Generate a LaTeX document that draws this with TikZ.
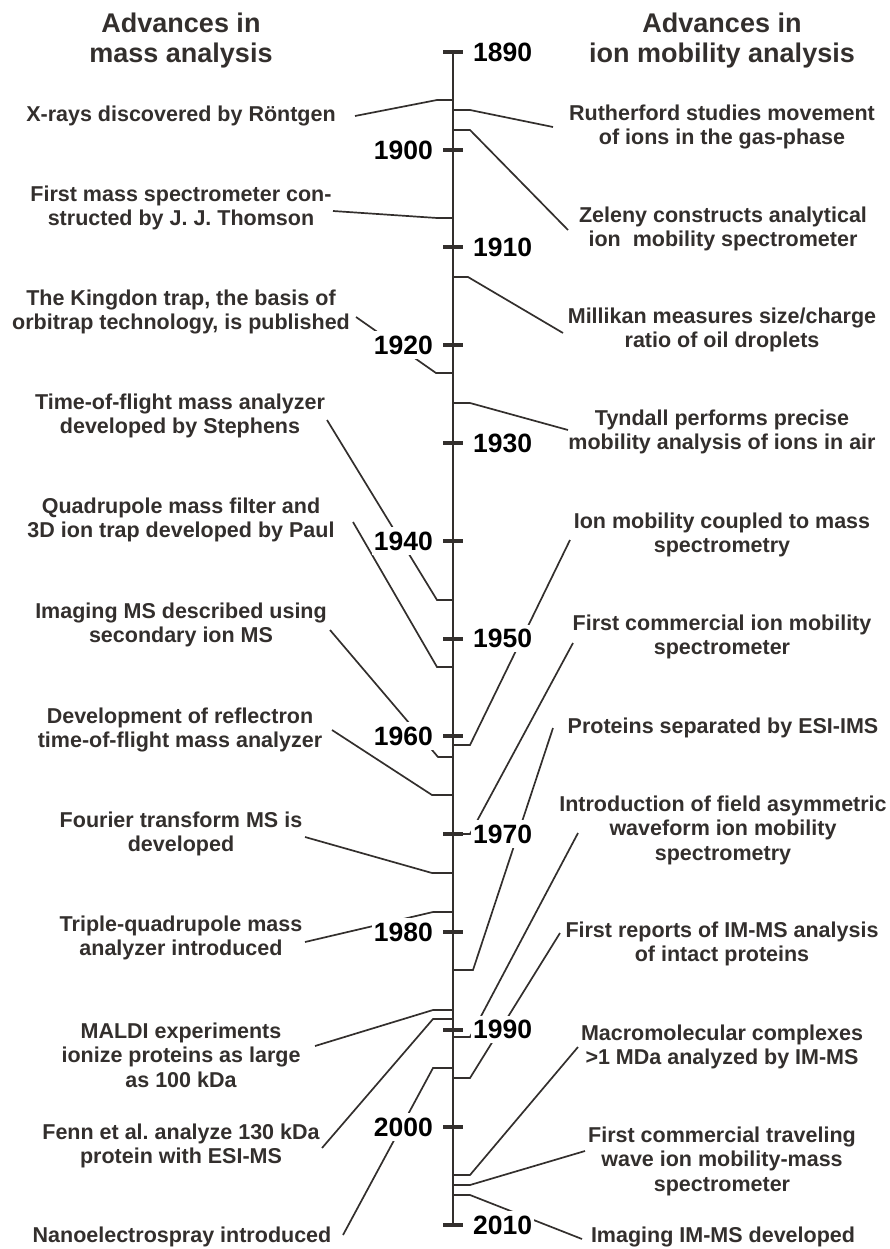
\documentclass[tikz,border=0pt]{standalone}
\usepackage{fontspec}
\setmainfont{Liberation Sans}
\frenchspacing
\definecolor{inkgray}{HTML}{332F2D}
\tikzset{
	evt/.style={align=center, text=inkgray, inner sep=0pt, font=\fontsize{21.5}{24.5}\selectfont\bfseries},
	hd/.style={align=center, text=inkgray, inner sep=0pt, font=\fontsize{27}{30}\selectfont\bfseries},
	yr/.style={fill=white, text=black, inner xsep=2pt, inner ysep=4.5pt, font=\fontsize{26.5}{28}\selectfont\bfseries},
	conn/.style={draw=inkgray, line width=1.7pt},
	tickmark/.style={draw=inkgray, line width=4pt},
}

\begin{document}
\begin{tikzpicture}[x=1pt, y=-1pt]
			%%%%% START %%%%%
			\useasboundingbox (0, 0) rectangle (890, 1249);
			
			\node[hd] (hmass) at (181, 41) {Advances in\\mass analysis};
			\node[hd] (hion) at (722, 41) {Advances in\\ion mobility analysis};
			
			% time axis
			\coordinate (top) at (453, 52);
			\coordinate (bot) at (453, 1225);
			\draw[draw=inkgray, line width=2.2pt] (top) -- (bot);
			
			\draw[tickmark] (443, 52) -- (463, 52);
			\draw[tickmark] (443, 150) -- (463, 150);
			\draw[tickmark] (443, 247.5) -- (463, 247.5);
			\draw[tickmark] (443, 345) -- (463, 345);
			\draw[tickmark] (443, 443) -- (463, 443);
			\draw[tickmark] (443, 541) -- (463, 541);
			\draw[tickmark] (443, 638.5) -- (463, 638.5);
			\draw[tickmark] (443, 736) -- (463, 736);
			\draw[tickmark] (443, 834) -- (463, 834);
			\draw[tickmark] (443, 932) -- (463, 932);
			\draw[tickmark] (443, 1029.5) -- (463, 1029.5);
			\draw[tickmark] (443, 1127) -- (463, 1127);
			\draw[tickmark] (443, 1225) -- (463, 1225);
			
			% mass analysis
			\node[evt] (xray) at (181, 116) {X-rays discovered by Röntgen};
			\coordinate (xray-e) at (355, 116);
			\coordinate (xray-b) at (437, 100);
			\draw[conn] (xray-e) -- (xray-b) -- (xray-b -| top);
			
			\node[evt] (thomson) at (181, 208) {First mass spectrometer con-\\structed by J. J. Thomson};
			\coordinate (thomson-e) at (333, 211);
			\coordinate (thomson-b) at (437, 218);
			\draw[conn] (thomson-e) -- (thomson-b) -- (thomson-b -| top);
			
			\node[evt] (kingdon) at (181, 312) {The Kingdon trap, the basis of\\orbitrap technology, is published};
			\coordinate (kingdon-e) at (356, 317);
			\coordinate (kingdon-b) at (436, 373);
			\draw[conn] (kingdon-e) -- (kingdon-b) -- (kingdon-b -| top);
			
			\node[evt] (tof) at (180, 416) {Time-of-flight mass analyzer\\developed by Stephens};
			\coordinate (tof-e) at (327, 420);
			\coordinate (tof-b) at (437, 600);
			\draw[conn] (tof-e) -- (tof-b) -- (tof-b -| top);
			
			\node[evt] (paul) at (181, 520) {Quadrupole mass filter and\\3D ion trap developed by Paul};
			\coordinate (paul-e) at (353, 522);
			\coordinate (paul-b) at (437, 667);
			\draw[conn] (paul-e) -- (paul-b) -- (paul-b -| top);
			
			\node[evt] (sims) at (181, 625) {Imaging MS described using\\secondary ion MS};
			\coordinate (sims-e) at (330, 630);
			\coordinate (sims-b) at (438, 757);
			\draw[conn] (sims-e) -- (sims-b) -- (sims-b -| top);
			
			\node[evt] (reflectron) at (180, 730) {Development of reflectron\\time-of-flight mass analyzer};
			\coordinate (reflectron-e) at (332, 730);
			\coordinate (reflectron-b) at (432, 795);
			\draw[conn] (reflectron-e) -- (reflectron-b) -- (reflectron-b -| top);
			
			\node[evt] (fourier) at (181, 834) {Fourier transform MS is\\developed};
			\coordinate (fourier-e) at (305, 837);
			\coordinate (fourier-b) at (432, 873);
			\draw[conn] (fourier-e) -- (fourier-b) -- (fourier-b -| top);
			
			\node[evt] (triple) at (181, 938) {Triple-quadrupole mass\\analyzer introduced};
			\coordinate (triple-e) at (305, 942);
			\coordinate (triple-b) at (433, 912);
			\draw[conn] (triple-e) -- (triple-b) -- (triple-b -| top);
			
			\node[evt] (maldi) at (181, 1055) {MALDI experiments\\ionize proteins as large\\as 100 kDa};
			\coordinate (maldi-e) at (315, 1046);
			\coordinate (maldi-b) at (433, 1010);
			\draw[conn] (maldi-e) -- (maldi-b) -- (maldi-b -| top);
			
			\node[evt] (fenn) at (181, 1146) {Fenn et al. analyze 130 kDa\\protein with ESI-MS};
			\coordinate (fenn-e) at (322, 1148);
			\coordinate (fenn-b) at (433, 1019);
			\draw[conn] (fenn-e) -- (fenn-b) -- (fenn-b -| top);
			
			\node[evt] (nano) at (182, 1237) {Nanoelectrospray introduced};
			\coordinate (nano-e) at (343, 1235);
			\coordinate (nano-b) at (433, 1068);
			\draw[conn] (nano-e) -- (nano-b) -- (nano-b -| top);
			
			% ion mobility analysis
			\node[evt] (ruth) at (722, 127) {Rutherford studies movement\\of ions in the gas-phase};
			\coordinate (ruth-e) at (553, 127);
			\coordinate (ruth-b) at (470, 110);
			\draw[conn] (ruth-e) -- (ruth-b) -- (ruth-b -| top);
			
			\node[evt] (zeleny) at (723, 229) {Zeleny constructs analytical\\ion\ \ mobility spectrometer};
			\coordinate (zeleny-e) at (568, 230);
			\coordinate (zeleny-b) at (470, 130);
			\draw[conn] (zeleny-e) -- (zeleny-b) -- (zeleny-b -| top);
			
			\node[evt] (millikan) at (722, 330) {Millikan measures size/charge\\ratio of oil droplets};
			\coordinate (millikan-e) at (563, 333);
			\coordinate (millikan-b) at (468, 277);
			\draw[conn] (millikan-e) -- (millikan-b) -- (millikan-b -| top);
			
			\node[evt] (tyndall) at (722, 432) {Tyndall performs precise\\mobility analysis of ions in air};
			\coordinate (tyndall-e) at (568, 430);
			\coordinate (tyndall-b) at (470, 403);
			\draw[conn] (tyndall-e) -- (tyndall-b) -- (tyndall-b -| top);
			
			\node[evt] (coupled) at (722, 535) {Ion mobility coupled to mass\\spectrometry};
			\coordinate (coupled-e) at (570, 540);
			\coordinate (coupled-b) at (470, 745);
			\draw[conn] (coupled-e) -- (coupled-b) -- (coupled-b -| top);
			
			\node[evt] (commims) at (722, 637) {First commercial ion mobility\\spectrometer};
			\coordinate (commims-e) at (573, 643);
			\coordinate (commims-b) at (470, 834);
			\draw[conn] (commims-e) -- (commims-b) -- (commims-b -| top);
			
			\node[evt] (esiims) at (723, 728) {Proteins separated by ESI-IMS};
			\coordinate (esiims-e) at (553, 728);
			\coordinate (esiims-b) at (473, 970);
			\draw[conn] (esiims-e) -- (esiims-b) -- (esiims-b -| top);
			
			\node[evt] (faims) at (723, 830) {Introduction of field asymmetric\\waveform ion mobility\\spectrometry};
			\coordinate (faims-e) at (578, 833);
			\coordinate (faims-b) at (470, 1037);
			\draw[conn] (faims-e) -- (faims-b) -- (faims-b -| top);
			
			\node[evt] (intact) at (722, 944) {First reports of IM-MS analysis\\of intact proteins};
			\coordinate (intact-e) at (560, 933);
			\coordinate (intact-b) at (470, 1078);
			\draw[conn] (intact-e) -- (intact-b) -- (intact-b -| top);
			
			\node[evt] (macro) at (722, 1047) {Macromolecular complexes\\>1 MDa analyzed by IM-MS};
			\coordinate (macro-e) at (578, 1047);
			\coordinate (macro-b) at (470, 1175);
			\draw[conn] (macro-e) -- (macro-b) -- (macro-b -| top);
			
			\node[evt] (twave) at (722, 1161) {First commercial traveling\\wave ion mobility-mass\\spectrometer};
			\coordinate (twave-e) at (585, 1151);
			\coordinate (twave-b) at (470, 1185);
			\draw[conn] (twave-e) -- (twave-b) -- (twave-b -| top);
			
			\node[evt] (imims) at (723, 1237) {Imaging IM-MS developed};
			\coordinate (imims-e) at (582, 1239);
			\coordinate (imims-b) at (470, 1195);
			\draw[conn] (imims-e) -- (imims-b) -- (imims-b -| top);
			
			% year labels (white boxes hide the lines behind them)
			\node[yr, anchor=west] (y1890) at (471, 52) {1890};
			\node[yr, anchor=east] (y1900) at (435, 150) {1900};
			\node[yr, anchor=west] (y1910) at (471, 247.5) {1910};
			\node[yr, anchor=east] (y1920) at (435, 345) {1920};
			\node[yr, anchor=west] (y1930) at (471, 443) {1930};
			\node[yr, anchor=east] (y1940) at (435, 541) {1940};
			\node[yr, anchor=west] (y1950) at (471, 638.5) {1950};
			\node[yr, anchor=east] (y1960) at (435, 736) {1960};
			\node[yr, anchor=west] (y1970) at (471, 834) {1970};
			\node[yr, anchor=east] (y1980) at (435, 932) {1980};
			\node[yr, anchor=west] (y1990) at (471, 1029.5) {1990};
			\node[yr, anchor=east] (y2000) at (435, 1127) {2000};
			\node[yr, anchor=west] (y2010) at (471, 1225) {2010};
			
			%%%%% END %%%%%
\end{tikzpicture}
\end{document}
